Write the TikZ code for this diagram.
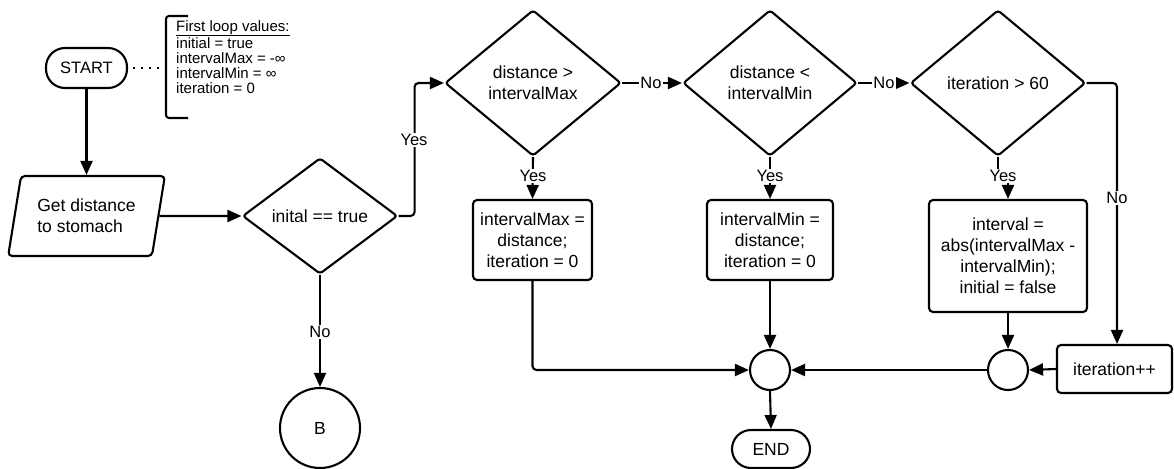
\documentclass[tikz,border=0pt]{standalone}
\usepackage{fontspec}
\setmainfont{Liberation Sans}
\usetikzlibrary{shapes.geometric,arrows.meta}
\begin{document}
\begin{tikzpicture}[x=1pt,y=-1pt,
  base/.style={draw=black, line width=2.1pt, inner sep=0pt, align=center,
    font=\fontsize{17.5}{21}\selectfont},
  terminal/.style={base, rounded corners=19pt},
  proc/.style={base, rounded corners=4pt},
  io/.style={base, trapezium, trapezium left angle=74, trapezium right angle=106,
    trapezium stretches=true, rounded corners=4pt, align=left},
  decision/.style={base, diamond, rounded corners=3pt},
  junction/.style={base, circle},
  flow/.style={line width=2.1pt, -{Triangle[length=14pt,width=12pt]}},
  lbl/.style={fill=white, inner sep=1.5pt, font=\fontsize{16.5}{19}\selectfont}
]
\useasboundingbox (0,0) rectangle (1174,468);

% ---- nodes ----
\node[terminal, minimum width=81pt, minimum height=40pt, font=\fontsize{16.5}{19}\selectfont] (start) at (86.5,68) {START};
\node[io, minimum width=157pt, minimum height=80pt] (get) at (86.5,216) {Get distance\\to stomach};
\node[decision, minimum width=155pt, minimum height=116pt] (d1) at (320,216) {inital == true};
\node[junction, minimum size=80pt] (b) at (320,428) {B};

\node[decision, minimum width=176pt, minimum height=146pt] (d2) at (533,83) {distance >\\intervalMax};
\node[decision, minimum width=174pt, minimum height=146pt] (d3) at (770,83) {distance <\\intervalMin};
\node[decision, minimum width=175pt, minimum height=146pt] (d4) at (998,83) {iteration > 60};

\node[proc, minimum width=119pt, minimum height=80pt] (b1) at (532.5,240) {intervalMax =\\distance;\\iteration = 0};
\node[proc, minimum width=126pt, minimum height=80pt] (b2) at (770,240) {intervalMin =\\distance;\\iteration = 0};
\node[proc, minimum width=158pt, minimum height=112pt] (b3) at (1008,256) {interval =\\abs(intervalMax -\\intervalMin);\\initial = false};
\node[proc, minimum width=115pt, minimum height=48pt] (it) at (1114.5,369) {iteration++};

\node[junction, minimum size=40pt] (j1) at (770,370) {};
\node[junction, minimum size=40pt] (j2) at (1008,370) {};
\node[terminal, minimum width=78pt, minimum height=38pt] (end) at (771,449) {END};

% ---- first loop values note ----
\coordinate (brk) at (166,68);
\draw[line width=2.1pt, rounded corners=3pt] (188,16) -- (166,16) -- (166,118) -- (188,118);
\node[anchor=north west, align=left, inner sep=0pt, font=\fontsize{15}{15.3}\selectfont] (note) at (176,20)
  {\underline{First loop values:}\\initial = true\\intervalMax = -∞\\intervalMin = ∞\\iteration = 0};
\draw[line width=1.8pt, dash pattern=on 1.8pt off 6.2pt] ([xshift=5pt]start.east) -- (brk);

% ---- connectors ----
\draw[flow] (start.south) -- (start.south |- get.north);
\draw[flow] (get.east) -- (d1.west);
\draw[flow, rounded corners=4pt] (d1.east) -- ++(16,0) |- (d2.west);
\draw[flow] (d1.south) -- (b.north);
\draw[flow] (d2.east) -- (d3.west);
\draw[flow] (d3.east) -- (d4.west);
\draw[flow] (d2.south) -- (b1.north);
\draw[flow] (d3.south) -- (b2.north);
\draw[flow] (d4.south) -- ++(0,22) -- ++(10,0) -- (b3.north);
\draw[flow, rounded corners=4pt] (d4.east) -| ([xshift=2.5pt]it.north);
\draw[flow] (b3.south) -- (j2.north);
\draw[flow] (it.west) -- (j2.east);
\draw[flow] (j2.west) -- (j1.east);
\draw[flow, rounded corners=4pt] (b1.south) |- (j1.west);
\draw[flow] (b2.south) -- (j1.north);
\draw[flow] (j1.south) -- (end.north);

% ---- branch labels ----
\node[lbl] (lyes1) at (414,140) {Yes};
\node[lbl] (lno1) at (320,332) {No};
\node[lbl] (lyes2) at (533,176) {Yes};
\node[lbl] (lyes3) at (770,176) {Yes};
\node[lbl] (lyes4) at (1003,176) {Yes};
\node[lbl] (lno2) at (651,83) {No};
\node[lbl] (lno3) at (884,83) {No};
\node[lbl] (lno4) at (1117,198) {No};
\end{tikzpicture}
\end{document}
